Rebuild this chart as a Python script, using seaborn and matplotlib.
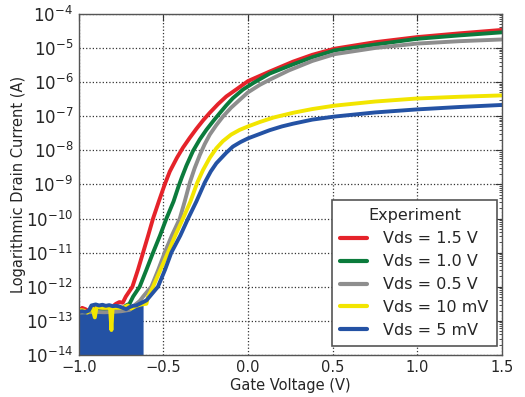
import numpy as np
import pandas as pd
import matplotlib
matplotlib.use("Agg")
import matplotlib.pyplot as plt
import matplotlib.ticker as mticker
import seaborn as sns

# ---------------- data (log10 of drain current in A) ----------------
series_labels = ["Vds = 1.5 V", "Vds = 1.0 V", "Vds = 0.5 V", "Vds = 10 mV", "Vds = 5 mV"]
series_colors = ["#e5232a", "#0b7b3c", "#8e8e8e", "#f2e500", "#2452a4"]

red_v = [-1.00, -0.98, -0.96, -0.94, -0.92, -0.88, -0.84, -0.80, -0.78, -0.76, -0.74,
         -0.722, -0.683, -0.650, -0.620, -0.590, -0.561, -0.527, -0.492, -0.462, -0.420,
         -0.384, -0.345, -0.305, -0.265, -0.226, -0.178, -0.128, -0.065, 0.0, 0.128,
         0.266, 0.38, 0.512, 0.75, 1.0, 1.25, 1.5]
red_log = [-12.72, -12.62, -12.66, -12.72, -12.62, -12.60, -12.62, -12.58, -12.50, -12.45, -12.47,
           -12.29, -12.0, -11.5, -11.0, -10.5, -10.0, -9.5, -9.0, -8.62, -8.22,
           -7.92, -7.64, -7.37, -7.12, -6.90, -6.65, -6.42, -6.20, -5.97, -5.69,
           -5.40, -5.20, -5.02, -4.83, -4.68, -4.57, -4.47]

green_v = [-1.00, -0.95, -0.90, -0.85, -0.80, -0.75, -0.72, -0.70, -0.679, -0.640, -0.600,
           -0.561, -0.520, -0.482, -0.440, -0.410, -0.390, -0.364, -0.325, -0.285, -0.246,
           -0.205, -0.167, -0.128, -0.089, -0.030, 0.030, 0.128, 0.266, 0.38, 0.512,
           0.75, 1.0, 1.25, 1.5]
green_log = [-12.75, -12.74, -12.72, -12.74, -12.72, -12.68, -12.55, -12.50, -12.29, -12.0, -11.5,
             -11.0, -10.5, -10.0, -9.5, -9.05, -8.78, -8.45, -8.02, -7.68, -7.40,
             -7.14, -6.91, -6.68, -6.47, -6.22, -6.03, -5.75, -5.48, -5.27, -5.07,
             -4.90, -4.73, -4.63, -4.54]

gray_v = [-1.00, -0.95, -0.90, -0.85, -0.80, -0.75, -0.70, -0.66, -0.64, -0.620, -0.571,
          -0.530, -0.492, -0.450, -0.403, -0.374, -0.344, -0.315, -0.285, -0.256, -0.226,
          -0.187, -0.148, -0.100, -0.049, 0.0, 0.070, 0.128, 0.240, 0.38, 0.512,
          0.75, 1.0, 1.25, 1.5]
gray_log = [-12.76, -12.75, -12.74, -12.75, -12.74, -12.72, -12.68, -12.50, -12.42, -12.29, -12.0,
            -11.5, -11.0, -10.5, -10.0, -9.5, -8.95, -8.52, -8.14, -7.82, -7.54,
            -7.26, -7.01, -6.75, -6.52, -6.30, -6.08, -5.93, -5.66, -5.38, -5.18,
            -5.0, -4.87, -4.80, -4.75]

yellow_v = [-1.00, -0.97, -0.95, -0.92, -0.905, -0.895, -0.86, -0.83, -0.815, -0.807, -0.80,
            -0.78, -0.75, -0.73, -0.71, -0.69, -0.66, -0.63, -0.60, -0.591, -0.561,
            -0.517, -0.473, -0.430, -0.384, -0.340, -0.300, -0.266, -0.226, -0.187, -0.148,
            -0.100, -0.049, 0.0, 0.070, 0.150, 0.266, 0.38, 0.512, 0.75, 1.0, 1.25, 1.5]
yellow_log = [-12.68, -12.70, -12.76, -12.62, -12.90, -12.60, -12.62, -12.62, -12.62, -13.27, -12.62,
              -12.62, -12.62, -12.60, -12.55, -12.64, -12.56, -12.52, -12.50, -12.29, -12.0,
              -11.5, -11.0, -10.5, -10.0, -9.5, -8.95, -8.58, -8.22, -7.94, -7.73,
              -7.54, -7.40, -7.30, -7.17, -7.04, -6.90, -6.79, -6.69, -6.57, -6.48, -6.43, -6.39]

blue_v = [-1.00, -0.98, -0.96, -0.94, -0.925, -0.90, -0.88, -0.86, -0.84, -0.82, -0.80,
          -0.78, -0.76, -0.74, -0.72, -0.70, -0.68, -0.66, -0.64, -0.62, -0.60,
          -0.581, -0.532, -0.490, -0.453, -0.400, -0.354, -0.305, -0.256, -0.220, -0.187,
          -0.128, -0.089, -0.045, 0.0, 0.128, 0.200, 0.266, 0.38, 0.512, 0.75, 1.0, 1.25, 1.5]
blue_log = [-12.74, -12.72, -12.74, -12.70, -12.55, -12.52, -12.55, -12.53, -12.56, -12.54, -12.57,
            -12.56, -12.58, -12.62, -12.66, -12.60, -12.56, -12.55, -12.50, -12.45, -12.40,
            -12.29, -12.0, -11.5, -11.0, -10.5, -10.0, -9.5, -8.95, -8.62, -8.38,
            -8.07, -7.89, -7.76, -7.65, -7.41, -7.30, -7.22, -7.10, -7.01, -6.89, -6.80, -6.73, -6.67]

# part of the 5 mV curve that sits in the noise floor (drawn as a filled band)
blue_noise_end = -0.62
floor_value = 1e-15

x_ticks = [-1.0, -0.5, 0.0, 0.5, 1.0, 1.5]

# ---------------- build long-form table ----------------
frames = []
for lab, v, lg in zip(series_labels,
                      [red_v, green_v, gray_v, yellow_v, blue_v],
                      [red_log, green_log, gray_log, yellow_log, blue_log]):
    frames.append(pd.DataFrame({"Gate Voltage (V)": v,
                                "Current": np.power(10.0, lg),
                                "Experiment": lab}))
df = pd.concat(frames, ignore_index=True)

# ---------------- style ----------------
sns.set_style("white")
text_color = "#262626"
plt.rcParams["font.family"] = ["DejaVu Sans"]
plt.rcParams["text.color"] = text_color
plt.rcParams["axes.labelcolor"] = text_color
plt.rcParams["xtick.color"] = text_color
plt.rcParams["ytick.color"] = text_color

fig = plt.figure(figsize=(5.25, 3.97), dpi=100)
ax = fig.add_axes([0.150, 0.106, 0.806, 0.859])

# noise floor fill for the 5 mV curve
bdf = df[(df["Experiment"] == series_labels[4]) & (df["Gate Voltage (V)"] <= blue_noise_end + 1e-9)]
ax.fill_between(bdf["Gate Voltage (V)"], bdf["Current"], floor_value,
                color=series_colors[4], linewidth=0, zorder=1.5)

sns.lineplot(data=df, x="Gate Voltage (V)", y="Current", hue="Experiment",
             hue_order=series_labels, palette=series_colors, estimator=None,
             sort=False, linewidth=2.8, ax=ax, zorder=2)

ax.set_yscale("log")
ax.set_xlim(-1.0, 1.5)
ax.set_ylim(1e-14, 1e-4)
ax.set_xticks(x_ticks)
ax.set_xticklabels([f"{t:.1f}".replace("-", "\u2212") for t in x_ticks])
ax.yaxis.set_major_locator(mticker.LogLocator(base=10, numticks=20))
ax.yaxis.set_minor_locator(mticker.LogLocator(base=10, subs=np.arange(2, 10), numticks=20))
ax.yaxis.set_minor_formatter(mticker.NullFormatter())

ax.grid(True, which="major", linestyle=":", color="#333333", linewidth=0.9)
ax.tick_params(which="both", direction="in", top=True, right=True, color="#333333")
ax.tick_params(which="major", length=5, width=0.8)
ax.tick_params(which="minor", length=2.5, width=0.6)
ax.tick_params(axis="x", labelsize=10.5, pad=4)
ax.tick_params(axis="y", labelsize=12, pad=4)
for s in ax.spines.values():
    s.set_color("#555555")
    s.set_linewidth(1.0)

ax.set_xlabel("Gate Voltage (V)", fontsize=10.5, labelpad=2)
ax.set_ylabel("Logarithmic Drain Current (A)", fontsize=10.5, labelpad=0)

leg = ax.legend(title="Experiment", loc="lower right", bbox_to_anchor=(0.988, 0.026),
                borderaxespad=0, fontsize=11.5, title_fontsize=11.5, fancybox=False,
                frameon=True, handlelength=1.7, handletextpad=1.0, labelspacing=0.5,
                borderpad=0.5)
leg.get_frame().set_edgecolor("#555555")
leg.get_frame().set_linewidth(1.2)
leg.get_frame().set_alpha(1.0)
for line in leg.get_lines():
    line.set_linewidth(3.0)

fig.savefig("out.png", dpi=100)
